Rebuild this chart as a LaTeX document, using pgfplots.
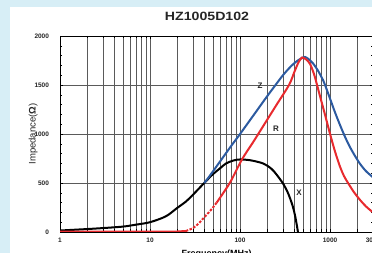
\documentclass[border=0pt]{standalone}
\usepackage{fontspec}
\setmainfont{Liberation Sans}
\usepackage{pgfplots}
\pgfplotsset{compat=1.18}
\definecolor{bgblue}{HTML}{D7EEF6}
\definecolor{zblue}{HTML}{2C5AA0}
\definecolor{rred}{HTML}{E82A2E}
\definecolor{gridc}{HTML}{5A5A5A}
\begin{document}
\begin{tikzpicture}
\useasboundingbox (0pt,0pt) rectangle (372pt,253pt);
\clip (0pt,0pt) rectangle (372pt,253pt);
\fill[bgblue] (0pt,0pt) rectangle (372pt,253pt);
\fill[white] (10pt,0pt) rectangle (372pt,246pt);
\begin{axis}[
  at={(60pt,21pt)}, anchor=south west,
  scale only axis, width=313pt, height=196pt,
  xmode=log, xmin=1, xmax=3000, ymin=0, ymax=2000,
  xtick={1,10,100,1000,3000}, xticklabels={1,10,100,1000,3000},
  minor xtick={2,3,4,5,6,7,8,9,20,30,40,50,60,70,80,90,200,300,400,500,600,700,800,900,2000},
  ytick={0,500,1000,1500,2000}, yticklabels={0,500,1000,1500,2000},
  minor ytick={100,200,300,400,600,700,800,900,1100,1200,1300,1400,1600,1700,1800,1900},
  xmajorgrids, xminorgrids, ymajorgrids,
  grid style={gridc, line width=0.7pt},
  minor grid style={gridc, line width=0.7pt},
  tick align=inside, major tick length=3pt, minor tick length=2.5pt,
  tick style={black, line width=0.5pt},
  axis line style={black, line width=0.8pt},
  ticklabel style={font=\fontsize{6.5}{7}\selectfont\bfseries, text=black!85},
  yticklabel style={xshift=-7.5pt},
  xticklabel style={yshift=-2.5pt},
  xlabel={Frequency(MHz)},
  xlabel style={font=\fontsize{9}{10}\selectfont\bfseries, at={(axis description cs:0.5,0)}, anchor=north, yshift=-14pt},
  ylabel={Impedance({\bfseries Ω})},
  ylabel style={font=\fontsize{9.5}{10}\selectfont, text=black!85, at={(axis description cs:-0.086,0.5)}, anchor=center},
]
\addplot[black, line width=2pt, smooth] coordinates {
(1,15)(2,30)(3,40)(5,55)(7,75)(10,100)(15,160)(20,245)(25,310)(30,380)(40,500)(50,590)(60,650)(70,700)(85,730)(100,740)(130,732)(180,700)(220,650)(250,595)(300,495)(340,400)(380,280)(410,160)(440,0)};
\addplot[zblue, line width=2pt, smooth] coordinates {
(40,500)(45,560)(60,720)(80,880)(100,1000)(150,1225)(200,1385)(255,1515)(300,1600)(350,1670)(400,1722)(450,1757)(500,1780)(525,1786)(570,1768)(647,1720)(736,1645)(836,1550)(880,1500)(1000,1360)(1136,1220)(1292,1090)(1468,970)(1668,865)(1896,775)(2154,695)(2512,620)(3000,558)};
\addplot[rred, line width=2pt] coordinates {(1,5)(10,5)(20,5)(25,10)};
\addplot[rred, line width=2pt, smooth, dash pattern=on 2.5pt off 1.5pt] coordinates {
(25,10)(30,40)(35,90)(40,150)(45,200)(50,250)(55,300)};
\addplot[rred, line width=2pt, smooth] coordinates {
(55,300)(60,350)(78,510)(105,740)(140,918)(170,1041)(250,1287)(350,1500)(400,1630)(440,1720)(470,1765)(489,1780)(541,1762)(599,1715)(664,1610)(717,1500)(774,1385)(880,1195)(1000,1000)(1136,820)(1292,665)(1430,570)(1585,500)(1848,405)(2154,327)(2512,260)(3000,200)};
\node[font=\fontsize{8}{9}\selectfont\bfseries, text=black!85] at (axis cs:167,1490) {Z};
\node[font=\fontsize{8}{9}\selectfont\bfseries, text=black!85] at (axis cs:251,1051) {R};
\node[font=\fontsize{8}{9}\selectfont\bfseries, text=black!85] at (axis cs:452,398) {X};
\end{axis}
\node[font=\fontsize{12}{13}\selectfont\bfseries, text=black!85] at (207pt,237pt) {\scalebox{1.18}[1]{HZ1005D102}};
\end{tikzpicture}
\end{document}
